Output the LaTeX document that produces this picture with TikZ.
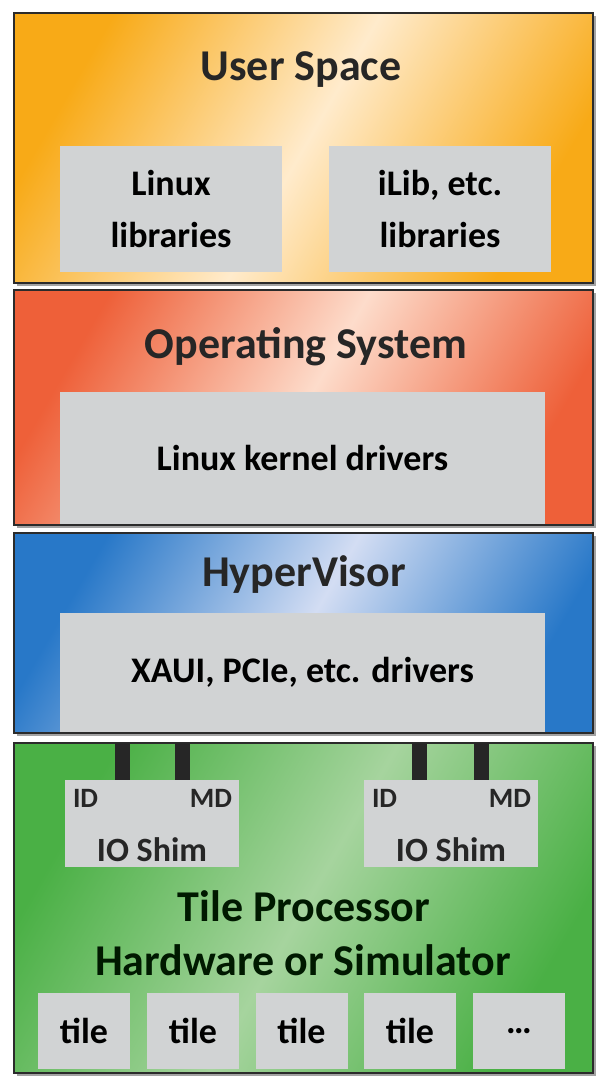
\documentclass[tikz,border=0pt]{standalone}
\usepackage{fontspec}
\setmainfont{Carlito}
\usetikzlibrary{positioning,shadows}

\definecolor{usrdark}{HTML}{F8AA17}
\definecolor{usrlight}{HTML}{FFEBCC}
\definecolor{osdark}{HTML}{EE6039}
\definecolor{oslight}{HTML}{FDDCCB}
\definecolor{hvdark}{HTML}{2878C8}
\definecolor{hvlight}{HTML}{D3DDF3}
\definecolor{hwdark}{HTML}{4AB045}
\definecolor{hwlight}{HTML}{A6D49E}
\definecolor{boxgray}{HTML}{D1D3D4}
\definecolor{rim}{HTML}{2B2B2B}

\begin{document}
\begin{tikzpicture}[x=0.5pt,y=-0.5pt,
    panel/.style={draw=rim, line width=1.2pt, inner sep=0pt, minimum width=289.5pt,
      drop shadow={shadow xshift=1.5pt, shadow yshift=-1.5pt, fill=black!45, opacity=0.8}},
    graybox/.style={fill=boxgray, inner sep=0pt, font=\bfseries\fontsize{18}{26}\selectfont, align=center},
    title/.style={font=\bfseries\fontsize{22}{28}\selectfont, text=black!85},
    tag/.style={font=\bfseries\fontsize{14}{16}\selectfont, text=black!85, inner sep=0pt},
    bar/.style={line width=7.5pt, draw=black!85}]
  \useasboundingbox[fill=white] (0,0) rectangle (600,1084);

  % layers
  \node[panel, minimum height=135pt, left color=usrdark, right color=usrdark, middle color=usrlight, shading angle=60] (usr) at (303.5,148) {};
  \node[panel, minimum height=117.5pt, left color=osdark, right color=osdark, middle color=oslight, shading angle=60] (os) at (303.5,407.5) {};
  \node[panel, minimum height=100pt, left color=hvdark, right color=hvdark, middle color=hvlight, shading angle=60] (hv) at (303.5,633) {};
  \node[panel, minimum height=165pt, left color=hwdark, right color=hwdark, middle color=hwlight, shading angle=60] (hw) at (303.5,908) {};

  % user space
  \node[title] (usrtitle) at (301,70) {User Space};
  \node[graybox, minimum width=111pt, minimum height=63pt] (linlib) at (171,209) {Linux\\libraries};
  \node[graybox, minimum width=111pt, minimum height=63pt] (ilib) at (440,209) {iLib, etc.\\libraries};

  % operating system
  \node[title] (ostitle) at (306,347) {Operating System};
  \node[graybox, minimum width=242.5pt, minimum height=66pt] (kern) at (302.5,458) {Linux kernel drivers};

  % hypervisor
  \node[title] (hvtitle) at (304,575) {HyperVisor};
  \node[graybox, minimum width=242.5pt, minimum height=59.5pt] (xaui) at (302.5,672.5) {XAUI, PCIe, etc. drivers};

  % hardware
  \node[graybox, minimum width=87pt, minimum height=43.5pt] (shimL) at (152,823.5) {};
  \node[graybox, minimum width=87pt, minimum height=43.5pt] (shimR) at (451,823.5) {};
  \foreach \s in {shimL,shimR} {
    \node[tag, anchor=west] (\s id) at ([xshift=4pt,yshift=12.5pt]\s.west) {ID};
    \node[tag, anchor=east] (\s md) at ([xshift=-3.5pt,yshift=12.5pt]\s.east) {MD};
    \node[font=\bfseries\fontsize{17}{20}\selectfont, text=black!85] (\s lbl) at ([yshift=-13pt]\s.center) {IO Shim};
  }
  \foreach \x/\s in {122/shimL,182/shimL,419/shimR,481/shimR} {
    \coordinate (top\x) at (\x,743);
    \draw[bar] (top\x) -- (top\x |- \s.north);
  }
  \node[title, text=black!90!green] (hwtitle) at (304,906) {Tile Processor};
  \node[title, text=black!90!green] (hwsub) at (303,960) {Hardware or Simulator};
  \foreach \x/\t [count=\i] in {84/tile,193/tile,301.5/tile,410/tile,519/{\ldots}} {
    \node[graybox, minimum width=46pt, minimum height=38pt] (tile\i) at (\x,1031) {\t};
  }
\end{tikzpicture}
\end{document}
